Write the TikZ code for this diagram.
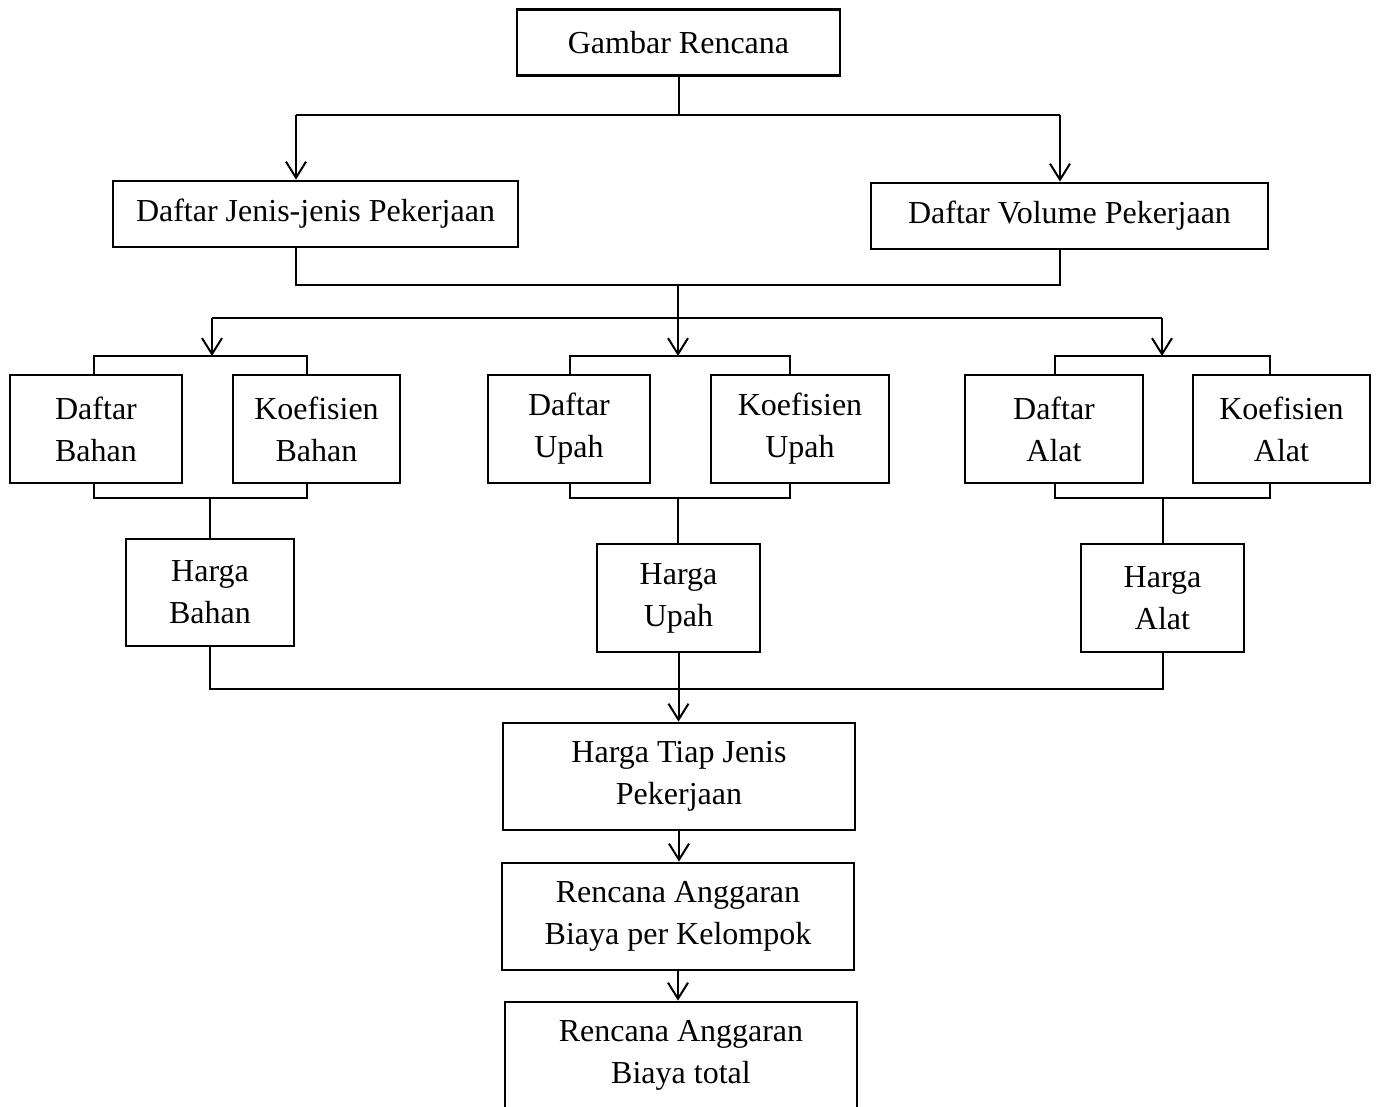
\documentclass[tikz,border=0pt]{standalone}
\usepackage{fontspec}
\setmainfont{Liberation Serif}
\usepackage{tikz}
\usetikzlibrary{shapes, arrows, arrows.meta, calc}

\begin{document}
\begin{tikzpicture}[x = 0.5pt, y = -0.5pt, line width = 1pt, font = \fontsize{16}{21}\selectfont,
        box/.style = {rectangle, draw, line width = 1.4pt, align = center, inner sep = 0pt},
        arr/.style = {-{Straight Barb[length = 8pt, width = 10pt]}}]
        \useasboundingbox (0,0) rectangle (1378,1107);

        \node (gambar) [box, minimum width = 161.5pt, minimum height = 33pt] at (678.5,42.5) {Gambar Rencana};
        \node (jenis) [box, minimum width = 202.5pt, minimum height = 33pt] at (315.5,214) {Daftar Jenis-jenis Pekerjaan};
        \node (volume) [box, minimum width = 198.5pt, minimum height = 33pt] at (1069.5,216) {Daftar Volume Pekerjaan};

        \node (dbahan) [box, minimum width = 86pt, minimum height = 54pt] at (96,429) {Daftar\\Bahan};
        \node (kbahan) [box, minimum width = 83.5pt, minimum height = 54pt] at (316.5,429) {Koefisien\\Bahan};
        \node (dupah) [box, minimum width = 81pt, minimum height = 54pt] at (569,429) {Daftar\\Upah};
        \node (kupah) [box, minimum width = 89pt, minimum height = 54pt] at (800,429) {Koefisien\\Upah};
        \node (dalat) [box, minimum width = 89pt, minimum height = 54pt] at (1054,429) {Daftar\\Alat};
        \node (kalat) [box, minimum width = 88.5pt, minimum height = 54pt] at (1281.5,429) {Koefisien\\Alat};

        \node (hbahan) [box, minimum width = 84pt, minimum height = 53.5pt] at (210,592.5) {Harga\\Bahan};
        \node (hupah) [box, minimum width = 81.5pt, minimum height = 54pt] at (678.5,598) {Harga\\Upah};
        \node (halat) [box, minimum width = 81.5pt, minimum height = 54pt] at (1162.5,598) {Harga\\Alat};

        \node (tiap) [box, minimum width = 176pt, minimum height = 53.5pt] at (679,776.5) {Harga Tiap Jenis\\Pekerjaan};
        \node (rabkel) [box, minimum width = 176pt, minimum height = 53.5pt] at (678,916.5) {Rencana Anggaran\\Biaya per Kelompok};
        \node (rabtot) [box, minimum width = 176pt, minimum height = 53.5pt] at (681,1055.5) {Rencana Anggaran\\Biaya total};

        \coordinate (top) at (678,115);
        \coordinate (lefttop) at (296,115);
        \coordinate (righttop) at (1060,115);
        \draw (gambar.south) -- (gambar.south |- top);
        \draw (lefttop) -- (righttop);
        \draw [arr] (lefttop) -- (lefttop |- jenis.north);
        \draw [arr] (righttop) -- (righttop |- volume.north);

        \coordinate (join) at (678,285);
        \coordinate (leftjoin) at (296,285);
        \coordinate (rightjoin) at (1060,285);
        \draw (leftjoin |- jenis.south) -- (leftjoin) -- (rightjoin) -- (rightjoin |- volume.south);

        \foreach \g/\a/\b/\c/\e in {bahan/94/307/212/210, upah/570/790/678/678, alat/1055/1270/1162/1163}
        {
            \coordinate (\g0) at (\c,356);
            \coordinate (\g1) at (\a,356);
            \coordinate (\g2) at (\b,356);
            \coordinate (\g3) at (\a,498);
            \coordinate (\g4) at (\b,498);
            \coordinate (\g5) at (\e,498);
            \draw (\g1 |- d\g.north) -- (\g1) -- (\g2) -- (\g2 |- k\g.north);
            \draw (\g3 |- d\g.south) -- (\g3) -- (\g4) -- (\g4 |- k\g.south);
            \draw (\g5) -- (\g5 |- h\g.north);
        }

        \coordinate (split) at (678,318);
        \draw (bahan0 |- split) -- (alat0 |- split);
        \draw [arr] (bahan0 |- split) -- (bahan0);
        \draw [arr] (alat0 |- split) -- (alat0);
        \draw [arr] (join) -- (upah0);

        \coordinate (sum) at (678,689);
        \draw (hbahan.south) -- (hbahan.south |- sum) -- (halat.south |- sum) -- (halat.south);
        \draw [arr] (hupah.south) -- (hupah.south |- tiap.north);
        \draw [arr] (tiap.south) -- (tiap.south |- rabkel.north);
        \draw [arr] (rabkel.south) -- (rabkel.south |- rabtot.north);
\end{tikzpicture}
\end{document}
